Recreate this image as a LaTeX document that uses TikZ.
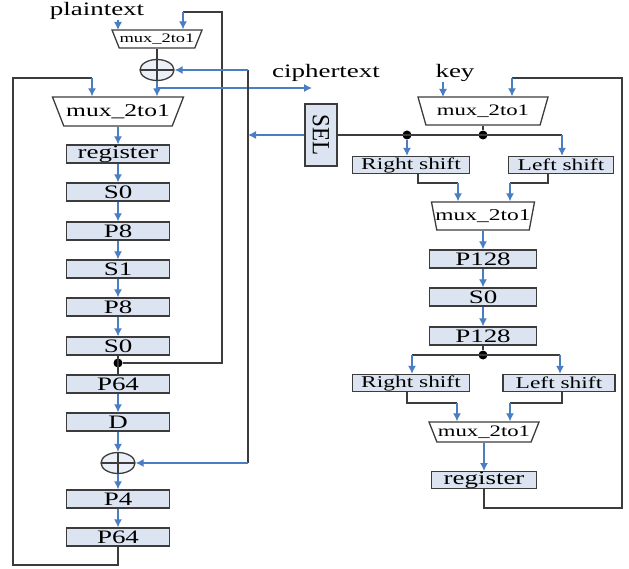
\documentclass[tikz,border=0pt]{standalone}
\usepackage{fontspec}
\setmainfont{Liberation Serif}
\usepackage{graphicx}
\usepackage{tikz}
\usetikzlibrary{arrows.meta,shapes.geometric}
\definecolor{boxfill}{HTML}{DDE4F1}
\definecolor{boxline}{HTML}{3C3C3C}
\definecolor{arrblue}{HTML}{4A7EC2}
\newcommand{\wt}[1]{\scalebox{1.42}[1]{#1}}
\newcommand{\fs}[1]{\fontsize{#1}{#1}\selectfont}

\begin{document}
\begin{tikzpicture}[x=1pt,y=-1pt,>={Latex[length=8pt,width=8pt]}]
 \tikzstyle{blk}=[draw=boxline,line width=1.3pt,fill=boxfill,inner sep=0pt,minimum width=103pt,minimum height=18pt,font=\fs{19}]
 \tikzstyle{mux}=[trapezium,shape border rotate=180,trapezium stretches body,draw=boxline,line width=1.3pt,fill=white,inner sep=0pt]
 \tikzstyle{xor}=[ellipse,draw=boxline,line width=1.3pt,fill=boxfill!60,minimum width=34pt,minimum height=21pt,inner sep=0pt,
   path picture={\draw[boxline,line width=1.2pt] (path picture bounding box.north) -- (path picture bounding box.south)
     (path picture bounding box.west) -- (path picture bounding box.east);}]
 \tikzstyle{arr}=[->,draw=arrblue,line width=1.3pt]
 \tikzstyle{wire}=[draw=boxline,line width=1.5pt]
 \tikzstyle{dot}=[circle,fill=black,inner sep=0pt,minimum size=9pt]
 \tikzstyle{lbl}=[inner sep=0pt,font=\fs{19}]

 \useasboundingbox (0,0) rectangle (629,569);

 % data path
 \node (ptxt) at (97,11) [lbl] {\wt{plaintext}};
 \node (smux) at (157,39) [mux,minimum width=90pt,minimum height=18pt,trapezium angle=55] {\fs{13}\makebox[0pt]{\wt{mux\_2to1}}};
 \node (xor1) at (157,70) [xor] {};
 \node (lmux) at (118,111.5) [mux,minimum width=131pt,minimum height=29pt,trapezium angle=51.6] {\fs{18}\makebox[0pt]{\wt{mux\_2to1}}};
 \node (ctxt) at (326,73) [lbl] {\wt{ciphertext}};

 \node (reg) at (118,154) [blk] {\wt{register}};
 \node (s0a) at (118,192) [blk] {\wt{S0}};
 \node (p8a) at (118,231) [blk] {\wt{P8}};
 \node (s1) at (118,269) [blk] {\wt{S1}};
 \node (p8b) at (118,307) [blk] {\wt{P8}};
 \node (s0b) at (118,346) [blk] {\wt{S0}};
 \node (dot1) at (118,363) [dot] {};
 \node (p64a) at (118,384) [blk] {\wt{P64}};
 \node (d) at (118,422) [blk] {\wt{D}};
 \node (xor2) at (118,463) [xor] {};
 \node (p4) at (118,499) [blk] {\wt{P4}};
 \node (p64b) at (118,537) [blk] {\wt{P64}};

 \coordinate (smuxA) at (118,30);
 \coordinate (smuxB) at (183,12);
 \coordinate (fbk) at (92,78);
 \coordinate (ct) at (312,88);
 \coordinate (kt) at (248,70);
 \coordinate (kb) at (248,463);

 \draw[arr] (ptxt.south -| smuxA) -- (smuxA);
 \draw[wire] (dot1) -| (222,12) -- (smuxB);
 \draw[arr] (smuxB) -- (smuxB |- smux.north);
 \draw[wire] (smux) -- (xor1);
 \draw[arr] (xor1) -- (xor1 |- lmux.north);
 \draw[arr] (xor1 |- ct) -- (ct);
 \draw[wire] (p64b) |- (13,565) |- (fbk);
 \draw[arr] (fbk) -- (fbk |- lmux.north);
 \draw[arr] (lmux) -- (reg);
 \foreach \a/\b in {reg/s0a,s0a/p8a,p8a/s1,s1/p8b,p8b/s0b,p64a/d,d/xor2,xor2/p4,p4/p64b}
   \draw[arr] (\a) -- (\b);
 \draw[wire] (s0b) -- (p64a);
 \draw[wire] (kt) -- (kb);
 \draw[arr] (kt) -- (xor1);
 \draw[arr] (kb) -- (xor2);

 % key path
 \node (sel) at (321,135) [blk,minimum width=32pt,minimum height=62pt] {\rotatebox{-90}{\fs{17}\scalebox{1.35}[1.45]{SEL}}};
 \node (key) at (455,73) [lbl] {\wt{key}};
 \node (rmux1) at (483,111) [mux,minimum width=130pt,minimum height=28pt,trapezium angle=58] {\fs{16}\makebox[0pt]{\wt{mux\_2to1}}};
 \node (dot2) at (407,135) [dot] {};
 \node (dot3) at (483,135) [dot] {};
 \node (rs1) at (411,165) [blk,minimum width=117pt,minimum height=17pt,font=\fs{16.5}] {\wt{Right shift}};
 \node (ls1) at (561,165) [blk,minimum width=105pt,minimum height=17pt,font=\fs{16.5}] {\wt{Left shift}};
 \node (rmux2) at (483,216) [mux,minimum width=103pt,minimum height=28pt,trapezium angle=68] {\fs{16.5}\makebox[0pt]{\wt{mux\_2to1}}};
 \node (p128a) at (483,259) [blk,minimum width=107pt] {\wt{P128}};
 \node (s0r) at (483,297) [blk,minimum width=107pt] {\wt{S0}};
 \node (p128b) at (483,336) [blk,minimum width=107pt] {\wt{P128}};
 \node (dot4) at (483,355) [dot] {};
 \node (rs2) at (411,383) [blk,minimum width=117pt,minimum height=17pt,font=\fs{16.5}] {\wt{Right shift}};
 \node (ls2) at (559,383) [blk,minimum width=112pt,minimum height=17pt,font=\fs{16.5}] {\wt{Left shift}};
 \node (rmux3) at (484,432) [mux,minimum width=110pt,minimum height=20pt,trapezium angle=58] {\fs{16}\makebox[0pt]{\wt{mux\_2to1}}};
 \node (rreg) at (484,480) [blk,minimum width=105pt,minimum height=16pt] {\wt{register}};

 \coordinate (rmuxA) at (443,97);
 \coordinate (rmuxB) at (512,78);
 \coordinate (busR) at (562,135);
 \coordinate (m2A) at (458,183);
 \coordinate (m2B) at (510,183);
 \coordinate (bus2L) at (412,355);
 \coordinate (bus2R) at (560,355);
 \coordinate (m3A) at (457,403);
 \coordinate (m3B) at (510,403);

 \draw[arr] (sel) -- (sel -| kt);
 \draw[arr] (key.south -| rmuxA) -- (rmuxA);
 \draw[wire] (rreg) |- (622,508) |- (rmuxB);
 \draw[arr] (rmuxB) -- (rmuxB |- rmux1.north);
 \draw[wire] (sel) -- (busR);
 \draw[wire] (rmux1) -- (dot3);
 \draw[arr] (dot2) -- (dot2 |- rs1.north);
 \draw[arr] (busR) -- (busR |- ls1.north);
 \draw[wire] ([xshift=7pt]rs1.south) |- (m2A);
 \draw[wire] ([xshift=-13pt]ls1.south) |- (m2B);
 \draw[arr] (m2A) -- (m2A |- rmux2.north);
 \draw[arr] (m2B) -- (m2B |- rmux2.north);
 \draw[arr] (rmux2) -- (p128a);
 \draw[arr] (p128a) -- (s0r);
 \draw[arr] (s0r) -- (p128b);
 \draw[wire] (p128b) -- (dot4);
 \draw[wire] (bus2L) -- (bus2R);
 \draw[arr] (bus2L) -- (bus2L |- rs2.north);
 \draw[arr] (bus2R) -- (bus2R |- ls2.north);
 \draw[wire] ([xshift=-4pt]rs2.south) |- (m3A);
 \draw[wire] ([xshift=3pt]ls2.south) |- (m3B);
 \draw[arr] (m3A) -- (m3A |- rmux3.north);
 \draw[arr] (m3B) -- (m3B |- rmux3.north);
 \draw[arr] (rmux3) -- (rreg);
\end{tikzpicture}
\end{document}
